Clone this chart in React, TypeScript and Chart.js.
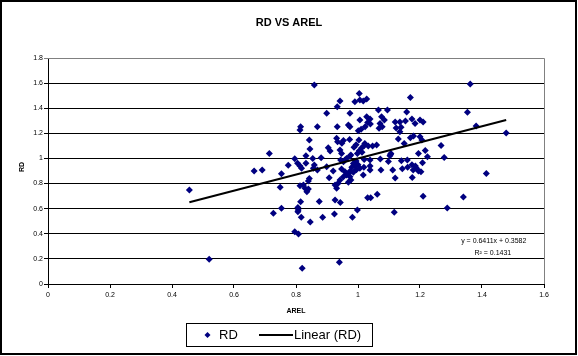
import React, { useEffect, useRef } from "react";
import { Chart, registerables } from "chart.js";

Chart.register(...registerables);

const chartTitle = "RD VS AREL";
const xAxisTitle = "AREL";
const yAxisTitle = "RD";
const seriesName = "RD";
const trendName = "Linear (RD)";

const xMin = 0;
const xMax = 1.6;
const xStep = 0.2;
const yMin = 0;
const yMax = 1.8;
const yStep = 0.2;

const trendSlope = 0.6411;
const trendIntercept = 0.3582;
const trendR2 = 0.1431;

const arelValues = [
  0.456, 0.52, 0.665, 0.691, 0.714, 0.727, 0.749, 0.753, 0.753, 0.775, 0.796, 0.796, 0.808, 0.806, 0.807, 0.806,
  0.815, 0.817, 0.82, 0.846, 0.886, 0.924, 0.94, 0.982, 0.998, 0.875, 0.926, 0.943, 0.859, 1.004, 0.942, 0.933,
  0.899, 0.99, 1.006, 1.017, 1.028, 0.974, 1.066, 1.095, 1.157, 1.169, 1.362, 1.353, 1.381, 1.478, 1.414, 1.34,
  1.288, 1.21, 1.117, 1.062, 1.031, 1.041, 1.278, 1.268,
  0.815, 0.813, 0.869, 0.933, 0.969, 0.974, 0.931, 0.934, 0.953, 0.948, 0.973, 0.843, 0.845, 0.904, 0.91, 0.942,
  0.947, 0.832, 0.854, 0.881, 0.805, 0.813, 0.818, 0.832, 0.859, 0.856, 0.899, 0.92, 0.869, 0.947, 0.958, 0.963,
  0.953, 0.942, 0.936, 0.907, 0.843, 0.84, 0.813, 0.824, 0.829, 0.835, 0.84, 0.926, 0.931, 0.969, 0.977, 0.974,
  1.006, 1.028, 1.039, 1.031, 1.023, 1.04, 1.076, 1.085, 1.071, 1.078, 1.068, 1.12, 1.135, 1.153, 1.123, 1.139,
  1.135, 1.174, 1.184, 1.2, 1.21, 1.001, 1.01, 1.003, 1.13, 1.169, 1.179, 1.2, 1.206, 1.149, 1.217, 1.195,
  1.224, 1.106, 1.103, 1.019, 1.033, 1.047, 1.06, 0.987, 1.004, 1.012, 1.022, 0.994, 0.998, 1.013, 0.974, 0.963,
  0.958, 0.977, 0.994, 1.02, 1.039, 1.072, 1.098, 1.105, 1.14, 1.159, 1.174, 1.185, 1.189, 1.178, 1.195, 1.203,
  1.208, 1.112, 1.143, 1.16, 1.074, 1.039, 1.039, 1.019, 1.006, 1.12, 1.175, 1.017, 0.944, 0.953, 0.985, 0.99,
  0.98, 0.995, 0.985, 0.97, 0.975, 1.0,
];

const rdValues = [
  0.748, 0.197, 0.9, 0.908, 1.04, 0.563, 0.77, 0.878, 0.604, 0.946, 0.998, 0.416, 0.398, 0.61, 0.589, 0.576,
  0.656, 0.531, 0.125, 0.494, 0.531, 0.557, 0.173, 0.531, 0.589, 0.658, 0.669, 0.65, 1.584, 1.518, 1.457, 1.412,
  1.359, 1.451, 1.465, 1.457, 1.473, 1.359, 1.385, 1.385, 1.37, 1.486, 1.592, 1.367, 1.258, 1.202, 0.881, 0.693,
  0.605, 0.698, 0.571, 0.714, 0.687, 0.687, 1.008, 1.104,
  1.252, 1.226, 1.252, 1.252, 1.266, 1.252, 1.16, 1.133, 1.143, 1.122, 1.15, 1.146, 1.075, 1.086, 1.059, 1.067,
  1.04, 1.022, 1.0, 1.006, 0.961, 0.939, 0.921, 0.961, 0.947, 0.921, 0.934, 0.9, 0.908, 0.916, 0.894, 0.868,
  0.854, 0.828, 0.802, 0.847, 0.841, 0.82, 0.783, 0.788, 0.762, 0.735, 0.756, 0.788, 0.762, 0.81, 0.828, 0.854,
  1.306, 1.332, 1.314, 1.287, 1.252, 1.275, 1.332, 1.306, 1.279, 1.252, 1.24, 1.29, 1.29, 1.298, 1.242, 1.248,
  1.213, 1.314, 1.279, 1.306, 1.29, 1.221, 1.232, 1.146, 1.154, 1.165, 1.178, 1.173, 1.146, 1.12, 1.064, 1.04,
  1.014, 1.04, 1.022, 1.099, 1.099, 1.099, 1.107, 1.09, 1.061, 1.085, 1.12, 1.11, 1.04, 1.05, 1.019, 1.0,
  0.987, 1.027, 0.979, 0.992, 0.987, 0.995, 0.976, 1.032, 0.982, 0.987, 0.95, 0.939, 0.921, 0.908, 0.9, 0.894,
  0.966, 0.908, 0.918, 0.93, 0.908, 0.939, 0.908, 0.929, 0.921, 0.844, 0.849, 0.868, 0.987, 0.974, 0.96, 0.94,
  0.93, 0.91, 0.89, 0.88, 0.9, 0.95,
];

const markerColor = "#000080";

const formatTick = (v: number) => String(Number(Number(v).toFixed(1)));

export default function App() {
  const canvasRef = useRef<HTMLCanvasElement | null>(null);

  useEffect(() => {
    const canvas = canvasRef.current;
    if (!canvas) return;

    const points = arelValues.map((x, i) => ({ x, y: rdValues[i] }));
    const tMinX = Math.min(...arelValues);
    const tMaxX = Math.max(...arelValues);
    const trendPoints = [
      { x: tMinX, y: trendSlope * tMinX + trendIntercept },
      { x: tMaxX, y: trendSlope * tMaxX + trendIntercept },
    ];

    const font = "'Liberation Sans', Arial, sans-serif";

    const overlay = {
      id: "excelOverlay",
      beforeDraw(chart: any) {
        const c = chart.ctx;
        c.save();
        c.fillStyle = "#fff";
        c.fillRect(0, 0, chart.width, chart.height);
        c.restore();
      },
      afterDraw(chart: any) {
        const c = chart.ctx;
        const a = chart.chartArea;
        const xs = chart.scales.x;
        const ys = chart.scales.y;
        c.save();
        // plot area gray top/right border
        c.strokeStyle = "#808080";
        c.lineWidth = 1;
        c.beginPath();
        c.moveTo(a.left, Math.round(a.top) + 0.5);
        c.lineTo(Math.round(a.right) + 0.5, Math.round(a.top) + 0.5);
        c.lineTo(Math.round(a.right) + 0.5, Math.round(a.bottom));
        c.stroke();

        // outer border
        c.strokeStyle = "#000";
        c.lineWidth = 2;
        c.strokeRect(1, 1, chart.width - 3, chart.height - 3);

        // title
        c.fillStyle = "#000";
        c.textAlign = "center";
        c.textBaseline = "middle";
        c.font = `bold 11px ${font}`;
        c.fillText(chartTitle, chart.width / 2, 23);

        // axis titles
        c.font = `bold 7px ${font}`;
        c.fillText(xAxisTitle, (a.left + a.right) / 2, 311);
        c.save();
        c.translate(22, (a.top + a.bottom) / 2 - 4);
        c.rotate(-Math.PI / 2);
        c.fillText(yAxisTitle, 0, 0);
        c.restore();

        // trendline equation
        c.font = `7px ${font}`;
        c.fillText(
          `y = ${trendSlope}x + ${trendIntercept}`,
          xs.getPixelForValue(1.438),
          ys.getPixelForValue(0.342)
        );
        c.fillText(
          `R² = ${trendR2}`,
          xs.getPixelForValue(1.435),
          ys.getPixelForValue(0.245)
        );

        // legend
        const lx = 186;
        const ly = 323;
        const lw = 186;
        const lh = 23;
        c.fillStyle = "#fff";
        c.fillRect(lx, ly, lw, lh);
        c.strokeStyle = "#000";
        c.lineWidth = 1;
        c.strokeRect(lx + 0.5, ly + 0.5, lw, lh);
        const cy = ly + lh / 2 + 0.5;
        c.fillStyle = markerColor;
        c.beginPath();
        c.moveTo(207.5, cy - 3);
        c.lineTo(210.5, cy);
        c.lineTo(207.5, cy + 3);
        c.lineTo(204.5, cy);
        c.closePath();
        c.fill();
        c.fillStyle = "#000";
        c.textAlign = "left";
        c.font = `13px ${font}`;
        c.fillText(seriesName, 219, cy + 0.5);
        c.strokeStyle = "#000";
        c.lineWidth = 2;
        c.beginPath();
        c.moveTo(259, cy);
        c.lineTo(293, cy);
        c.stroke();
        c.fillText(trendName, 294, cy + 0.5);
        c.restore();
      },
    };

    const chart = new Chart(canvas, {
      type: "scatter",
      data: {
        datasets: [
          {
            label: trendName,
            data: trendPoints,
            showLine: true,
            borderColor: "#000",
            borderWidth: 2,
            pointRadius: 0,
            fill: false,
            order: 1,
          } as any,
          {
            label: seriesName,
            data: points,
            pointStyle: "rectRot",
            pointRadius: 3.5,
            backgroundColor: markerColor,
            borderColor: markerColor,
            borderWidth: 0,
            order: 2,
          } as any,
        ],
      },
      options: {
        responsive: false,
        animation: false,
        devicePixelRatio: 1,
        events: [],
        layout: { padding: { left: 0, right: 34, top: 58, bottom: 0 } },
        plugins: {
          legend: { display: false },
          title: { display: false },
          tooltip: { enabled: false },
        },
        scales: {
          x: {
            type: "linear",
            min: xMin,
            max: xMax,
            ticks: {
              stepSize: xStep,
              color: "#000",
              font: { family: font, size: 7 },
              padding: 3,
              maxRotation: 0,
              callback: (v: any) => formatTick(v),
            },
            grid: {
              drawOnChartArea: false,
              drawTicks: true,
              tickLength: 4,
              color: "#000",
            },
            border: { display: true, color: "#000", width: 1 },
            afterFit(scale: any) {
              scale.height = 72;
            },
          },
          y: {
            type: "linear",
            min: yMin,
            max: yMax,
            ticks: {
              stepSize: yStep,
              color: "#000",
              font: { family: font, size: 7 },
              padding: 1,
              callback: (v: any) => formatTick(v),
            },
            grid: {
              drawTicks: true,
              tickLength: 4,
              color: (ctx: any) =>
                ctx.tick && Math.abs(ctx.tick.value - yMax) < 1e-9 ? "#808080" : "#000",
              lineWidth: 1,
            },
            border: { display: true, color: "#000", width: 1 },
            afterFit(scale: any) {
              scale.width = 48;
            },
          },
        },
      } as any,
      plugins: [overlay],
    });

    return () => {
      chart.destroy();
    };
  }, []);

  return (
    <div style={{ position: "absolute", left: 0, top: 0, width: 578, height: 356 }}>
      <canvas ref={canvasRef} width={578} height={356} style={{ display: "block" }} />
    </div>
  );
}
